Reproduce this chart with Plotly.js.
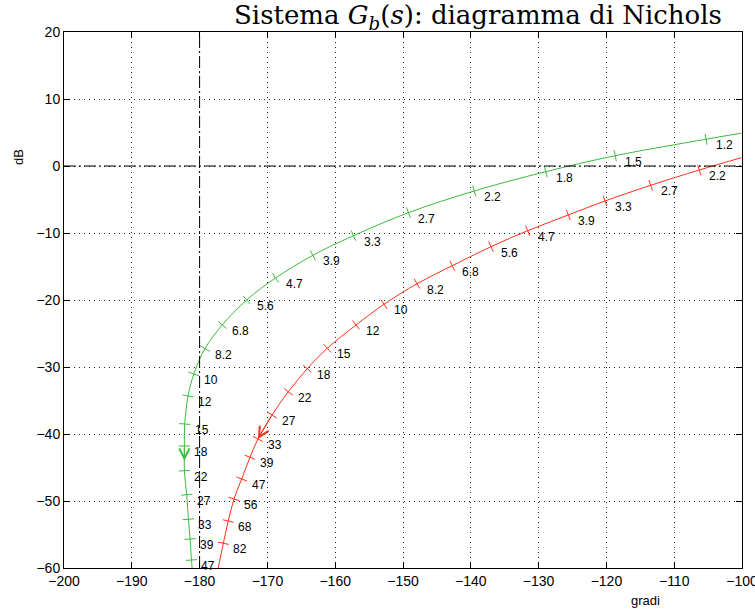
<!DOCTYPE html>
<html>
<head>
<meta charset="utf-8">
<script src="https://cdn.plot.ly/plotly-3.0.1.min.js"></script>
<style>html,body{margin:0;padding:0;background:#fff;}#chart{width:755px;height:609px;}</style>
</head>
<body>
<div id="chart"></div>
<script>
// ---- Data (phase in degrees, gain in dB) ----
// Green system: '' label = unlabeled curve end points
const greenLabel = ['', '1.2', '1.5', '1.8', '2.2', '2.7', '3.3', '3.9', '4.7', '5.6', '6.8', '8.2', '10', '12', '15', '18', '22', '27', '33', '39', '47', ''];
const greenPhase = [-100.1, -105.3, -118.7, -128.95, -139.5, -149.2, -157.3, -163.3, -168.8, -173.05, -176.65, -179.2, -180.85, -181.7, -182.2, -182.25, -182.25, -181.9, -181.65, -181.4, -181.2, -181.1];
const greenGain  = [4.9, 4.0, 1.54, -0.85, -3.73, -6.97, -10.4, -13.33, -16.72, -20.0, -23.73, -27.24, -31.04, -34.33, -38.51, -41.79, -45.48, -49.06, -52.73, -55.67, -58.81, -60.0];

// Red system
const redLabel = ['', '2.2', '2.7', '3.3', '3.9', '4.7', '5.6', '6.8', '8.2', '10', '12', '15', '18', '22', '27', '33', '39', '47', '56', '68', '82', ''];
const redPhase = [-100.1, -106.3, -113.47, -120.2, -125.62, -131.61, -137.02, -142.73, -147.94, -152.8, -156.93, -161.17, -164.12, -166.92, -169.32, -171.39, -172.57, -173.79, -174.93, -175.77, -176.5, -177.25];
const redGain  = [1.24, -0.6, -2.88, -5.22, -7.31, -9.66, -12.04, -14.88, -17.57, -20.64, -23.73, -27.21, -30.25, -33.69, -37.16, -40.75, -43.48, -46.72, -49.7, -52.99, -56.31, -60.0];

// direction arrows: [from label, to label]
const greenArrow = ['18', '22'];
const redArrow = ['27', '33'];

// critical point reference lines
const critPhase = -180;
const critGain = 0;

// axes
const xTicks = [-200, -190, -180, -170, -160, -150, -140, -130, -120, -110, -100];
const yTicks = [-60, -50, -40, -30, -20, -10, 0, 10, 20];
const xRange = [-200, -100];
const yRange = [-60, 20];

// ---- Styles ----
const GREEN = '#3cbc3c';
const RED = '#ff3019';
const W = 755, H = 609;
const M = {l: 64, r: 13, t: 32, b: 41};
const pxPerX = (W - M.l - M.r) / (xRange[1] - xRange[0]);
const pxPerY = (H - M.t - M.b) / (yRange[1] - yRange[0]);
const SANS = 'Liberation Sans, Arial, sans-serif';

function tickAngles(ph, gn, lab) {
  const a = [];
  for (let i = 0; i < ph.length; i++) {
    if (!lab[i]) continue;
    const i0 = Math.max(0, i - 1), i1 = Math.min(ph.length - 1, i + 1);
    const dx = (ph[i1] - ph[i0]) * pxPerX;
    const dy = (gn[i1] - gn[i0]) * pxPerY;
    a.push(-Math.atan2(dy, dx) * 180 / Math.PI);
  }
  return a;
}
function pick(arr, lab) { return arr.filter((v, i) => lab[i]); }

function curveTraces(ph, gn, lab, color) {
  return [
    {x: ph, y: gn, mode: 'lines', type: 'scatter', line: {color: color, width: 1, shape: 'spline', smoothing: 1}, hoverinfo: 'skip'},
    {x: pick(ph, lab), y: pick(gn, lab), mode: 'markers', type: 'scatter',
     marker: {symbol: 'line-ns', size: 8, angle: tickAngles(ph, gn, lab), color: color, line: {color: color, width: 1}}, hoverinfo: 'skip'}
  ];
}

function labelAnns(ph, gn, lab) {
  const out = [];
  for (let i = 0; i < ph.length; i++) {
    if (!lab[i]) continue;
    out.push({x: ph[i], y: gn[i], xref: 'x', yref: 'y', text: lab[i], showarrow: false,
      xanchor: 'left', yanchor: 'middle', xshift: 8, yshift: -6,
      font: {family: SANS, size: 12, color: '#000'}});
  }
  return out;
}

function arrowAnn(ph, gn, lab, pair, color, standoff) {
  const i0 = lab.indexOf(pair[0]), i1 = lab.indexOf(pair[1]);
  return {x: ph[i1], y: gn[i1], xref: 'x', yref: 'y', ax: ph[i0], ay: gn[i0], axref: 'x', ayref: 'y',
    text: '', showarrow: true, arrowhead: 5, arrowsize: 2, arrowwidth: 1, arrowcolor: color, standoff: standoff};
}

const traces = [
  ...curveTraces(greenPhase, greenGain, greenLabel, GREEN),
  ...curveTraces(redPhase, redGain, redLabel, RED)
];

const minusFmt = v => v < 0 ? '\u2212' + Math.abs(v) : String(v);

const axisCommon = {
  showline: true, linecolor: '#000', linewidth: 1, mirror: 'ticks',
  ticks: 'inside', ticklen: 6, tickwidth: 1, tickcolor: '#000',
  showgrid: true, gridcolor: '#222', gridwidth: 1, griddash: '1px,4px',
  zeroline: false, ticklabeloverflow: 'allow',
  tickfont: {family: SANS, size: 14, color: '#000'}
};

const layout = {
  width: W, height: H,
  margin: {l: M.l, r: M.r, t: M.t, b: M.b, pad: 0},
  paper_bgcolor: '#fff', plot_bgcolor: '#fff',
  showlegend: false,
  title: {
    text: 'Sistema <i>G</i><sub><i>b</i></sub>(<i>s</i>): diagramma di Nichols',
    font: {family: 'DejaVu Serif, Liberation Serif, serif', size: 26, color: '#000'},
    x: 478 / W, xref: 'container', xanchor: 'center',
    y: 1 - 15 / H, yref: 'container', yanchor: 'middle'
  },
  xaxis: Object.assign({}, axisCommon, {range: xRange, tickvals: xTicks, ticktext: xTicks.map(minusFmt)}),
  yaxis: Object.assign({}, axisCommon, {range: yRange, tickvals: yTicks, ticktext: yTicks.map(minusFmt)}),
  shapes: [
    {type: 'line', xref: 'x', yref: 'paper', x0: critPhase, x1: critPhase, y0: 0, y1: 1, line: {color: '#000', width: 1, dash: '12px,3px,2px,3px'}},
    {type: 'line', xref: 'paper', yref: 'y', x0: 0, x1: 1, y0: critGain, y1: critGain, line: {color: '#000', width: 1, dash: '12px,3px,2px,3px'}}
  ],
  annotations: [
    ...labelAnns(greenPhase, greenGain, greenLabel),
    ...labelAnns(redPhase, redGain, redLabel),
    arrowAnn(greenPhase, greenGain, greenLabel, greenArrow, GREEN, 10),
    arrowAnn(redPhase, redGain, redLabel, redArrow, RED, 0),
    {text: 'gradi', xref: 'paper', yref: 'paper', x: (645 - M.l) / (W - M.l - M.r), y: -(600 - (H - M.b)) / (H - M.t - M.b),
     showarrow: false, xanchor: 'center', yanchor: 'middle', font: {family: SANS, size: 13, color: '#000'}},
    {text: 'dB', xref: 'paper', yref: 'paper', x: (18 - M.l) / (W - M.l - M.r), y: 1 - (157 - M.t) / (H - M.t - M.b),
     textangle: -90, showarrow: false, xanchor: 'center', yanchor: 'middle', font: {family: SANS, size: 13, color: '#000'}}
  ]
};

Plotly.newPlot('chart', traces, layout, {staticPlot: true, displayModeBar: false});
</script>
</body>
</html>
